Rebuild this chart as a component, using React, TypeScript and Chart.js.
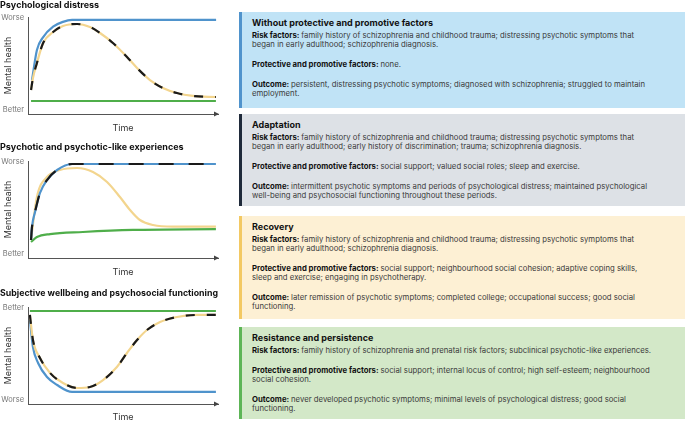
import React, { useEffect, useRef } from "react";
import { Chart, registerables } from "chart.js";

Chart.register(...registerables);

// ---------- Data (x = time 0..100, y = mental health level 0..100) ----------
const c1YellowX = [1.6, 2.6, 4.7, 7.9, 13.2, 18.4, 25.8, 32.6, 37.9, 44.7, 52.1, 57.4, 64.2, 71, 78.4, 86.8, 98.9];
const c1YellowY = [24.7, 37, 52.6, 73, 84.5, 90.7, 92.8, 89.7, 83.5, 73.2, 58.8, 47.4, 35, 26.8, 21.6, 18.6, 17.5];
const c1BlueX = [2.1, 4.7, 7.9, 13.2, 18.4, 23.2, 99];
const c1BlueY = [35, 66, 79, 90, 95, 97, 97];
const c1GreenX = [1.6, 98.9];
const c1GreenY = [13.4, 13.4];

const c2BlueX = [1.6, 2.1, 3.7, 6.3, 10, 15.3, 23.2, 98.9];
const c2BlueY = [18.6, 32, 47.4, 67, 80.4, 90.7, 96.9, 96.9];
const c2YellowX = [1.6, 4.7, 10, 16.8, 25.8, 34.2, 41.6, 48.4, 53.7, 58.9, 65.8, 76.3, 98.9];
const c2YellowY = [19.5, 62.9, 83.5, 90.7, 92.8, 88.7, 78.4, 62.9, 49.5, 39.2, 34, 32.3, 32.3];
const c2GreenX = [1.6, 4.7, 11.6, 28.9, 55.3, 98.9];
const c2GreenY = [16.5, 21.6, 24.7, 26.8, 28.9, 29.7];

const c3YellowX = [1, 2.6, 6.3, 11.6, 18.4, 25.8, 32.6, 39.5, 46.8, 52.1, 57.4, 62.6, 69.5, 78.4, 88.9, 98.9];
const c3YellowY = [91.8, 66, 47.4, 32, 21.6, 16.5, 17.5, 24.7, 38.1, 52.6, 66, 76.3, 84.5, 89.7, 91.8, 91.8];
const c3BlueX = [1, 2.6, 5.3, 10, 15.3, 23.2, 98.9];
const c3BlueY = [86.6, 58.8, 42.3, 27.8, 19.6, 12.4, 12.4];
const c3GreenX = [1, 98.9];
const c3GreenY = [95.9, 95.9];

const yTickValues = [4, 99];
const c1TickLabels = ["Better", "Worse"];
const c2TickLabels = ["Better", "Worse"];
const c3TickLabels = ["Worse", "Better"];

const chartTitles = [
  "Psychological distress",
  "Psychotic and psychotic-like experiences",
  "Subjective wellbeing and psychosocial functioning",
];
const xAxisTitle = "Time";
const yAxisTitle = "Mental health";

// ---------- Text panels ----------
const panelTitles = [
  "Without protective and promotive factors",
  "Adaptation",
  "Recovery",
  "Resistance and persistence",
];
const riskLines = [
  ["family history of schizophrenia and childhood trauma; distressing psychotic symptoms that", "began in early adulthood; schizophrenia diagnosis."],
  ["family history of schizophrenia and childhood trauma; distressing psychotic symptoms that", "began in early adulthood; early history of discrimination; trauma; schizophrenia diagnosis."],
  ["family history of schizophrenia and childhood trauma; distressing psychotic symptoms that", "began in early adulthood; schizophrenia diagnosis."],
  ["family history of schizophrenia and prenatal risk factors; subclinical psychotic-like experiences."],
];
const protectiveLines = [
  ["none."],
  ["social support; valued social roles; sleep and exercise."],
  ["social support; neighbourhood social cohesion; adaptive coping skills,", "sleep and exercise; engaging in psychotherapy."],
  ["social support; internal locus of control; high self-esteem; neighbourhood", "social cohesion."],
];
const outcomeLines = [
  ["persistent, distressing psychotic symptoms; diagnosed with schizophrenia; struggled to maintain", "employment."],
  ["intermittent psychotic symptoms and periods of psychological distress; maintained psychological", "well-being and psychosocial functioning throughout these periods."],
  ["later remission of psychotic symptoms; completed college; occupational success; good social", "functioning."],
  ["never developed psychotic symptoms; minimal levels of psychological distress; good social", "functioning."],
];

const BLUE = "#4f93cc";
const YELLOW = "#f3d58e";
const GREEN = "#4fae4a";
const BLACK = "#1a1a1a";
const FONT = "Inter, 'Noto Sans', sans-serif";

const pts = (xs: number[], ys: number[]) => xs.map((x, i) => ({ x, y: ys[i] }));

const arrowPlugin = {
  id: "axisArrow",
  afterDraw(chart: any) {
    const { ctx, chartArea } = chart;
    const { right, bottom } = chartArea;
    ctx.save();
    ctx.fillStyle = "#444";
    ctx.beginPath();
    ctx.moveTo(right + 1, bottom);
    ctx.lineTo(right - 4, bottom - 2.5);
    ctx.lineTo(right - 4, bottom + 2.5);
    ctx.closePath();
    ctx.fill();
    ctx.restore();
  },
};

type Series = { xs: number[]; ys: number[]; color: string; dash?: number[]; width?: number };

function makeConfig(
  title: string,
  series: Series[],
  tickLabels: string[],
  titlePadTop: number,
  titlePadBottom: number,
  xAxisHeight: number,
  timePadBottom: number
): any {
  return {
    type: "line",
    data: {
      datasets: series.map((s) => ({
        data: pts(s.xs, s.ys),
        borderColor: s.color,
        borderWidth: s.width ?? 2.2,
        borderDash: s.dash ?? [],
        borderCapStyle: "butt",
        pointRadius: 0,
        fill: false,
        cubicInterpolationMode: "monotone",
      })),
    },
    options: {
      animation: false,
      responsive: false,
      devicePixelRatio: 1,
      layout: { padding: { left: 0, right: 17, top: 0, bottom: 0 } },
      plugins: {
        legend: { display: false },
        tooltip: { enabled: false },
        title: {
          display: true,
          text: title,
          align: "start",
          color: "#111",
          font: { family: FONT, size: 9, weight: "bold", lineHeight: 1.2 },
          padding: { top: titlePadTop, bottom: titlePadBottom },
        },
      },
      scales: {
        x: {
          type: "linear",
          min: 0,
          max: 100,
          grid: { display: false, drawTicks: false },
          border: { display: true, color: "#555", width: 1 },
          ticks: { display: false },
          title: {
            display: true,
            text: xAxisTitle,
            color: "#333",
            font: { family: FONT, size: 9, lineHeight: 1.2 },
            padding: { top: 0, bottom: timePadBottom },
          },
          afterFit: (scale: any) => {
            scale.height = xAxisHeight;
          },
        },
        y: {
          min: 0,
          max: 100,
          grid: { display: false, drawTicks: false },
          border: { display: true, color: "#555", width: 1 },
          afterBuildTicks: (scale: any) => {
            scale.ticks = yTickValues.map((v) => ({ value: v }));
          },
          ticks: {
            padding: 4,
            color: "#777",
            font: { family: FONT, size: 7.5 },
            callback: (_v: any, i: number) => tickLabels[i],
          },
          title: {
            display: true,
            text: yAxisTitle,
            color: "#333",
            font: { family: FONT, size: 9, lineHeight: 1.2 },
            padding: { top: 2.6, bottom: 0 },
          },
          afterFit: (scale: any) => {
            scale.width = 28;
          },
        },
      },
    },
    plugins: [arrowPlugin],
  };
}

function ChartCanvas({ config, top, height }: { config: any; top: number; height: number }) {
  const ref = useRef<HTMLCanvasElement | null>(null);
  useEffect(() => {
    if (!ref.current) return;
    const chart = new Chart(ref.current, config);
    return () => chart.destroy();
  }, [config]);
  return (
    <canvas
      ref={ref}
      width={235}
      height={height}
      style={{ position: "absolute", left: 0, top, width: 235, height }}
    />
  );
}

const panelStyles = [
  { top: 12, height: 96, bg: "#c0e3f6", border: "#4f93cc" },
  { top: 114, height: 92, bg: "#dde1e6", border: "#1f2a3a" },
  { top: 216, height: 103, bg: "#fdf0d4", border: "#f3c963" },
  { top: 327, height: 92, bg: "#d3e8c8", border: "#5db556" },
];

function Lines({ label, lines, mt }: { label: string; lines: string[]; mt: number }) {
  return (
    <div style={{ marginTop: mt, lineHeight: "9px", fontSize: 7.75, color: "#3a3a3a" }}>
      {lines.map((l, i) => (
        <div key={i} style={{ height: 9 }}>
          {i === 0 ? <b style={{ color: "#111", fontWeight: 700 }}>{label} </b> : null}
          {l}
        </div>
      ))}
    </div>
  );
}

const config1 = makeConfig(
  chartTitles[0],
  [
    { xs: c1YellowX, ys: c1YellowY, color: BLACK, dash: [9, 12], width: 2.2 },
    { xs: c1YellowX, ys: c1YellowY, color: YELLOW },
    { xs: c1BlueX, ys: c1BlueY, color: BLUE },
    { xs: c1GreenX, ys: c1GreenY, color: GREEN },
  ],
  c1TickLabels,
  0,
  6.2,
  22,
  2.6
);
const config2 = makeConfig(
  chartTitles[1],
  [
    { xs: c2BlueX, ys: c2BlueY, color: BLACK, dash: [15, 15], width: 2.2 },
    { xs: c2BlueX, ys: c2BlueY, color: BLUE },
    { xs: c2YellowX, ys: c2YellowY, color: YELLOW },
    { xs: c2GreenX, ys: c2GreenY, color: GREEN },
  ],
  c2TickLabels,
  0.6,
  8.6,
  22,
  2.6
);
const config3 = makeConfig(
  chartTitles[2],
  [
    { xs: c3YellowX, ys: c3YellowY, color: BLACK, dash: [9, 12], width: 2.2 },
    { xs: c3YellowX, ys: c3YellowY, color: YELLOW },
    { xs: c3BlueX, ys: c3BlueY, color: BLUE },
    { xs: c3GreenX, ys: c3GreenY, color: GREEN },
  ],
  c3TickLabels,
  0.6,
  8.6,
  19,
  0.6
);

export default function App() {
  return (
    <div
      style={{
        position: "absolute",
        left: 0,
        top: 0,
        width: 685,
        height: 423,
        overflow: "hidden",
        background: "#fff",
        fontFamily: FONT,
      }}
    >
      <ChartCanvas config={config1} top={0} height={136} />
      <ChartCanvas config={config2} top={141} height={139} />
      <ChartCanvas config={config3} top={287} height={136} />
      {panelStyles.map((p, i) => (
        <div
          key={i}
          style={{
            position: "absolute",
            left: 239,
            top: p.top,
            width: 446,
            height: p.height,
            boxSizing: "border-box",
            background: p.bg,
            borderLeft: `3px solid ${p.border}`,
            paddingLeft: 10,
            paddingTop: 5.5,
            whiteSpace: "nowrap",
          }}
        >
          <div style={{ fontSize: 9, lineHeight: "10px", fontWeight: 700, color: "#111", height: 10 }}>
            {panelTitles[i]}
          </div>
          <Lines label="Risk factors:" lines={riskLines[i]} mt={3.5} />
          <Lines label="Protective and promotive factors:" lines={protectiveLines[i]} mt={11} />
          <Lines label="Outcome:" lines={outcomeLines[i]} mt={11} />
        </div>
      ))}
    </div>
  );
}
